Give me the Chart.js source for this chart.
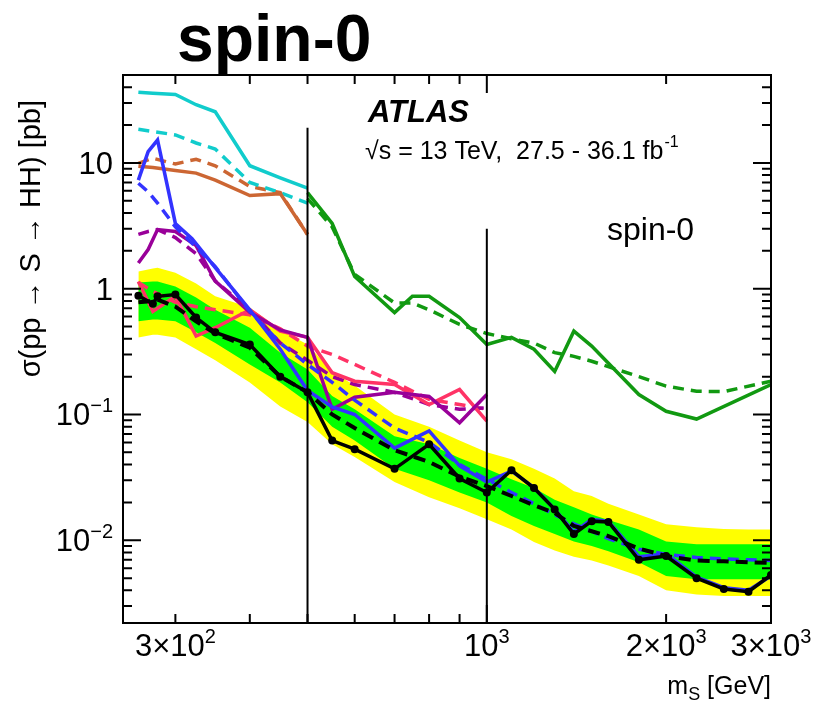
<!DOCTYPE html>
<html>
<head>
<meta charset="utf-8">
<script src="https://cdn.jsdelivr.net/npm/chart.js@4/dist/chart.umd.min.js"></script>
<style>
  body { margin: 0; background: #fff; }
  #wrap { width: 813px; height: 708px; }
</style>
</head>
<body>
<div id="wrap"><canvas id="chart" width="813" height="708"></canvas></div>
<script>
// ---- data (mass in GeV, cross-section in pb) ----
const massLow = [260, 275, 300, 325, 350, 400, 450, 500];
const cyanObs = [36.5, 35.8, 35, 29, 25.5, 9.5, 7.6, 6.3];
const cyanExp = [18.5, 17.8, 16.7, 14.4, 12.9, 7.0, 5.8, 4.8];
const orangeObs = [9.4, 9.2, 8.7, 8.3, 7.3, 5.5, 5.7, 2.7];
const orangeExp = [9.9, 10.9, 9.8, 10.7, 9.5, 6.5, 5.8, 2.7];

const massBlue = [260, 270, 280, 300, 320, 350, 400, 450, 500, 550, 600, 700, 800, 900, 1000,
                  1100, 1200, 1300, 1400, 1500, 1600, 1800, 2000, 2250, 2500, 2750, 3000];
const blueObs = [7.3, 12.3, 15.2, 3.3, 2.5, 1.47, 0.68, 0.33, 0.155, 0.115, 0.1, 0.054, 0.074, 0.039, 0.029,
                 0.0355, 0.0263, 0.0176, 0.0116, 0.0147, 0.0141, 0.0074, 0.0078, 0.0051, 0.0042, 0.0040, 0.0052];
const blueExp = [6.9, 5.9, 4.8, 3.1, 2.3, 1.5, 0.66, 0.37, 0.25, 0.18, 0.13, 0.078, 0.06, 0.04, 0.0305,
                 0.024, 0.0195, 0.016, 0.0135, 0.0118, 0.0103, 0.0085, 0.0077, 0.0073, 0.0071, 0.0070, 0.0069];

const massPurple = [260, 270, 280, 300, 325, 350, 400, 450, 500, 550, 600, 700, 800, 900, 1000];
const purpleObs = [1.6, 2.05, 2.95, 2.85, 2.2, 1.15, 0.65, 0.47, 0.41, 0.11, 0.137, 0.15, 0.139, 0.086, 0.144];
const purpleExp = [2.7, 2.85, 2.95, 2.55, 1.9, 1.15, 0.68, 0.37, 0.27, 0.2, 0.173, 0.15, 0.12, 0.11, 0.113];

const massPink = [260, 275, 300, 325, 350, 400, 450, 500, 550, 600, 700, 800, 900, 1000];
const pinkObs = [1.14, 0.66, 0.87, 0.42, 0.49, 0.68, 0.46, 0.41, 0.215, 0.184, 0.173, 0.12, 0.158, 0.0885];
const pinkExp = [1.12, 0.95, 0.78, 0.72, 0.68, 0.62, 0.48, 0.35, 0.3, 0.25, 0.18, 0.132, 0.12, 0.11];

const massGreenObs = [500, 550, 600, 700, 750, 800, 900, 1000, 1100, 1200, 1300, 1400, 1500, 1800, 2000, 2250, 3000];
const greenObs = [5.8, 3.3, 1.25, 0.645, 0.87, 0.87, 0.59, 0.36, 0.41, 0.33, 0.22, 0.46, 0.35, 0.144, 0.106, 0.092, 0.173];
const massGreenExp = [500, 550, 600, 700, 750, 800, 900, 1000, 1100, 1200, 1300, 1400, 1500, 1800, 2000, 2250, 2500, 3000];
const greenExp = [5.2, 3.1, 1.3, 0.77, 0.77, 0.68, 0.52, 0.44, 0.4, 0.37, 0.31, 0.29, 0.265, 0.2, 0.168, 0.153, 0.152, 0.184];

// combined limit
const massComb = [260, 275, 280, 300, 325, 350, 400, 450, 500, 550, 600, 700, 800, 900, 1000,
                  1100, 1200, 1300, 1400, 1500, 1600, 1800, 2000, 2250, 2500, 2750, 3000];
const combObs = [0.88, 0.76, 0.87, 0.9, 0.59, 0.45, 0.36, 0.2, 0.15, 0.062, 0.053, 0.037, 0.058, 0.031, 0.024,
                 0.036, 0.026, 0.0176, 0.0112, 0.0142, 0.014, 0.0070, 0.0075, 0.0050, 0.0041, 0.0039, 0.0053];
const combExp = [0.78, 0.8, 0.82, 0.72, 0.55, 0.44, 0.34, 0.2, 0.15, 0.1, 0.078, 0.052, 0.042, 0.032, 0.027,
                 0.0225, 0.019, 0.0165, 0.013, 0.0118, 0.0108, 0.0086, 0.0075, 0.0069, 0.0068, 0.0067, 0.0066];
const band1Lo = [0.55, 0.57, 0.57, 0.55, 0.45, 0.37, 0.25, 0.18, 0.125, 0.08, 0.062, 0.037, 0.03, 0.024, 0.02,
                 0.0156, 0.013, 0.0112, 0.0098, 0.009, 0.0082, 0.0067, 0.0052, 0.0049, 0.0049, 0.0049, 0.0049];
const band1Hi = [1.12, 1.14, 1.14, 1.04, 0.85, 0.68, 0.49, 0.31, 0.228, 0.14, 0.11, 0.067, 0.058, 0.045, 0.037,
                 0.0305, 0.026, 0.021, 0.0183, 0.016, 0.0145, 0.0122, 0.0098, 0.0093, 0.0093, 0.0093, 0.0093];
const band2Lo = [0.41, 0.43, 0.43, 0.41, 0.33, 0.27, 0.18, 0.116, 0.087, 0.058, 0.046, 0.029, 0.022, 0.018, 0.0147,
                 0.0122, 0.0097, 0.0083, 0.0074, 0.0069, 0.0063, 0.0052, 0.0040, 0.0037, 0.0036, 0.0036, 0.0036];
const band2Hi = [1.37, 1.45, 1.47, 1.34, 1.1, 0.87, 0.71, 0.47, 0.36, 0.22, 0.17, 0.1, 0.08, 0.062, 0.05,
                 0.044, 0.037, 0.031, 0.0245, 0.0225, 0.0195, 0.016, 0.0134, 0.0127, 0.0123, 0.0122, 0.0122];

// vertical separators: [mass, top of line in pb]
const dividers = [[500, 19], [1000, 3.0]];

// axis tick labels
const xTickVals = [300, 1000, 2000, 3000];
const xTickLabels = [['3×10', '2'], ['10', '3'], ['2×10', '3'], ['3×10', '3']];
const yTickVals = [0.01, 0.1, 1, 10];
const yTickLabels = [['10', '−2'], ['10', '−1'], ['1', ''], ['10', '']];

const X_MIN = 245, X_MAX = 3000, Y_MIN = 0.0022, Y_MAX = 50;
const FONT = '"Liberation Sans", Arial, Helvetica, sans-serif';

function pts(xs, ys) {
  return xs.map((x, i) => ({ x: x, y: ys[i] }));
}

function curve(xs, ys, color, dashed, order, width) {
  return {
    data: pts(xs, ys),
    borderColor: color,
    borderWidth: width || 3.5,
    borderDash: dashed ? [11, 7] : [],
    pointRadius: 0,
    fill: false,
    order: order
  };
}

const datasets = [];
// +-2 sigma band (yellow), +-1 sigma band (green)
datasets.push({ data: pts(massComb, band2Hi), borderWidth: 0, pointRadius: 0, backgroundColor: '#FFFF00', fill: '+1', order: 40 });
datasets.push({ data: pts(massComb, band2Lo), borderWidth: 0, pointRadius: 0, fill: false, order: 41 });
datasets.push({ data: pts(massComb, band1Hi), borderWidth: 0, pointRadius: 0, backgroundColor: '#00FF00', fill: '+1', order: 30 });
datasets.push({ data: pts(massComb, band1Lo), borderWidth: 0, pointRadius: 0, fill: false, order: 31 });

datasets.push(curve(massLow, cyanExp, '#11CCCC', true, 12));
datasets.push(curve(massLow, cyanObs, '#11CCCC', false, 11));
datasets.push(curve(massLow, orangeExp, '#CC6633', true, 12));
datasets.push(curve(massLow, orangeObs, '#CC6633', false, 11));
datasets.push(curve(massGreenExp, greenExp, '#119911', true, 12));
datasets.push(curve(massGreenObs, greenObs, '#119911', false, 11));
datasets.push(curve(massPurple, purpleExp, '#990099', true, 10));
datasets.push(curve(massPurple, purpleObs, '#990099', false, 9));
datasets.push(curve(massPink, pinkExp, '#FF3366', true, 10));
datasets.push(curve(massPink, pinkObs, '#FF3366', false, 9));
datasets.push(curve(massBlue, blueExp, '#3333FF', true, 8));
datasets.push(curve(massBlue, blueObs, '#3333FF', false, 7));

datasets.push(Object.assign(curve(massComb, combExp, '#000000', true, 3, 4), { borderDash: [12, 7] }));
datasets.push({
  data: pts(massComb, combObs), borderColor: '#000000', borderWidth: 3.5,
  pointRadius: 4, pointBackgroundColor: '#000000', pointBorderWidth: 0, fill: false, order: 2
});

dividers.forEach(d => {
  datasets.push({
    data: [{ x: d[0], y: Y_MIN }, { x: d[0], y: d[1] }],
    borderColor: '#000000', borderWidth: 2, pointRadius: 0, fill: false, order: 1
  });
});

// text with a superscript part
function supText(ctx, base, sup, x, y, size, align) {
  ctx.font = size + 'px ' + FONT;
  const wb = ctx.measureText(base).width;
  const ss = Math.round(size * 0.65);
  ctx.font = ss + 'px ' + FONT;
  const ws = sup ? ctx.measureText(sup).width : 0;
  const total = wb + ws;
  let x0 = x;
  if (align === 'center') x0 = x - total / 2;
  if (align === 'right') x0 = x - total;
  ctx.textAlign = 'left';
  ctx.font = size + 'px ' + FONT;
  ctx.fillText(base, x0, y);
  if (sup) {
    ctx.font = ss + 'px ' + FONT;
    ctx.fillText(sup, x0 + wb, y - size * 0.42);
  }
}

const framePlugin = {
  id: 'frame',
  afterDraw(chart) {
    const ctx = chart.ctx;
    const a = chart.chartArea;
    const xs = chart.scales.x, ys = chart.scales.y;
    ctx.save();
    ctx.strokeStyle = '#000';
    ctx.fillStyle = '#000';
    ctx.lineWidth = 2;
    ctx.strokeRect(a.left, a.top, a.right - a.left, a.bottom - a.top);

    // inner ticks
    ctx.beginPath();
    for (let d = -3; d <= 1; d++) {
      for (let k = 1; k <= 9; k++) {
        const v = k * Math.pow(10, d);
        if (v < Y_MIN || v > Y_MAX) continue;
        const py = ys.getPixelForValue(v);
        const len = k === 1 ? 18 : 9;
        ctx.moveTo(a.left, py); ctx.lineTo(a.left + len, py);
        ctx.moveTo(a.right, py); ctx.lineTo(a.right - len, py);
      }
    }
    for (let d = 2; d <= 3; d++) {
      for (let k = 1; k <= 9; k++) {
        const v = k * Math.pow(10, d);
        if (v < X_MIN || v > X_MAX) continue;
        const px = xs.getPixelForValue(v);
        const len = k === 1 ? 18 : 9;
        ctx.moveTo(px, a.bottom); ctx.lineTo(px, a.bottom - len);
        ctx.moveTo(px, a.top); ctx.lineTo(px, a.top + len);
      }
    }
    ctx.stroke();

    // tick labels
    ctx.textBaseline = 'alphabetic';
    xTickVals.forEach((v, i) => {
      supText(ctx, xTickLabels[i][0], xTickLabels[i][1], xs.getPixelForValue(v), a.bottom + 33, 31, 'center');
    });
    yTickVals.forEach((v, i) => {
      supText(ctx, yTickLabels[i][0], yTickLabels[i][1], a.left - 10, ys.getPixelForValue(v) + 11, 31, 'right');
    });

    // axis titles
    ctx.font = '25px ' + FONT;
    ctx.textAlign = 'right';
    ctx.fillText('[GeV]', a.right, a.bottom + 71);
    const wG = ctx.measureText(' [GeV]').width;
    ctx.font = '18px ' + FONT;
    const wS = ctx.measureText('S').width;
    ctx.fillText('S', a.right - wG, a.bottom + 77);
    ctx.font = '25px ' + FONT;
    ctx.fillText('m', a.right - wG - wS, a.bottom + 71);

    ctx.save();
    ctx.translate(40, 100);
    ctx.rotate(-Math.PI / 2);
    ctx.textAlign = 'right';
    ctx.font = '29px ' + FONT;
    ctx.fillText('σ(pp → S → HH) [pb]', 0, 0);
    ctx.restore();

    // labels
    ctx.textAlign = 'left';
    ctx.font = 'bold 66px ' + FONT;
    ctx.fillText('spin-0', 177, 61);
    ctx.font = 'italic bold 31px ' + FONT;
    ctx.fillText('ATLAS', 368, 122);
    ctx.font = '25px ' + FONT;
    ctx.fillText('√s = 13 TeV,  27.5 - 36.1 fb', 365, 159);
    const wl = ctx.measureText('√s = 13 TeV,  27.5 - 36.1 fb').width;
    ctx.font = '16px ' + FONT;
    ctx.fillText('-1', 365 + wl + 1, 147);
    ctx.font = '32px ' + FONT;
    ctx.fillText('spin-0', 607, 240);
    ctx.restore();
  }
};

new Chart(document.getElementById('chart'), {
  type: 'line',
  data: { datasets: datasets },
  options: {
    responsive: false,
    animation: false,
    layout: { padding: { top: 75, right: 42, left: 0, bottom: 0 } },
    plugins: { legend: { display: false }, tooltip: { enabled: false } },
    elements: { line: { tension: 0 } },
    scales: {
      x: {
        type: 'logarithmic', min: X_MIN, max: X_MAX,
        grid: { display: false }, border: { display: false }, ticks: { display: false },
        afterFit: s => { s.height = 85; }
      },
      y: {
        type: 'logarithmic', min: Y_MIN, max: Y_MAX,
        grid: { display: false }, border: { display: false }, ticks: { display: false },
        afterFit: s => { s.width = 123; }
      }
    }
  },
  plugins: [framePlugin]
});
</script>
</body>
</html>
